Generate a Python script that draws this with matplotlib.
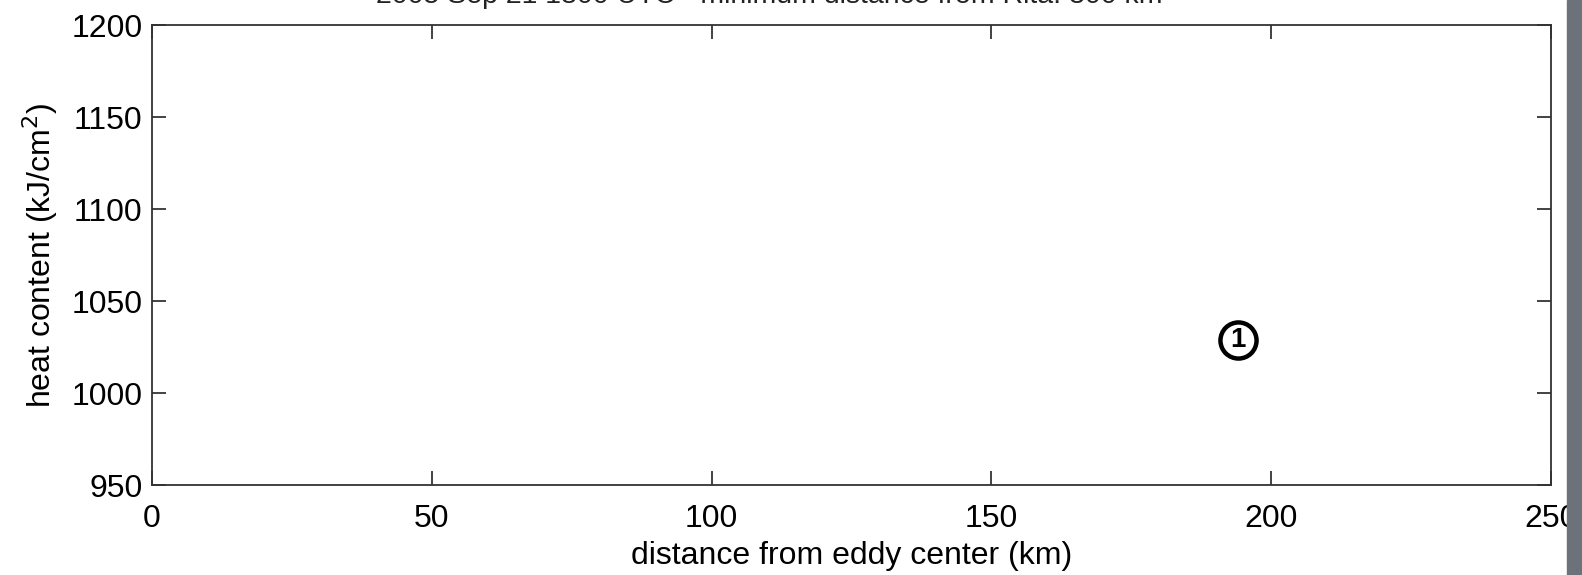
import matplotlib
matplotlib.use("Agg")
import matplotlib.pyplot as plt
from matplotlib.patches import Rectangle

plt.rcParams['font.family'] = ['Liberation Sans', 'DejaVu Sans']

# data
distance_km = [194]
heat_content = [1029]
point_labels = ['1']

x_ticks = [0, 50, 100, 150, 200, 250]
y_ticks = [950, 1000, 1050, 1100, 1150, 1200]
title = "2005 Sep 21 1800 UTC - minimum distance from Rita: 300 km"

W, H = 1582, 575
fig = plt.figure(figsize=(W / 100, H / 100), dpi=100)
# axes box in pixels: left 152, right 1551, top 25, bottom 485
ax = fig.add_axes([152 / W, 1 - 485 / H, 1399 / W, 460 / H])

for x, y, lab in zip(distance_km, heat_content, point_labels):
    ax.plot(x, y, 'o', ms=26, mfc='white', mec='black', mew=3.2)
    ax.text(x, y, lab, ha='center', va='center', fontsize=20, fontweight='bold')

ax.set_xlim(x_ticks[0], x_ticks[-1])
ax.set_ylim(y_ticks[0], y_ticks[-1])
ax.set_xticks(x_ticks)
ax.set_yticks(y_ticks)
ax.tick_params(direction='in', length=10, width=1.2, top=True, right=True,
               labelsize=23, pad=7, colors='#222222', labelcolor='black')
ax.tick_params(axis='x', pad=14)
for sp in ax.spines.values():
    sp.set_linewidth(1.3)
    sp.set_color('#333333')

ax.set_xlabel("distance from eddy center (km)", fontsize=23, labelpad=5)
ax.set_ylabel("heat content (kJ/cm$^2$)", fontsize=23, labelpad=8)

# title cut off at the top edge
fig.text(769 / W, 1 - 3 / H, title, ha='center', va='baseline',
         fontsize=20.5, color='#222222')

# grey strip at the right edge
fig.patches.append(Rectangle((1567 / W, 0), 15 / W, 1,
                             transform=fig.transFigure, color='#6b7279', zorder=0))

fig.savefig("out.png", dpi=100)
